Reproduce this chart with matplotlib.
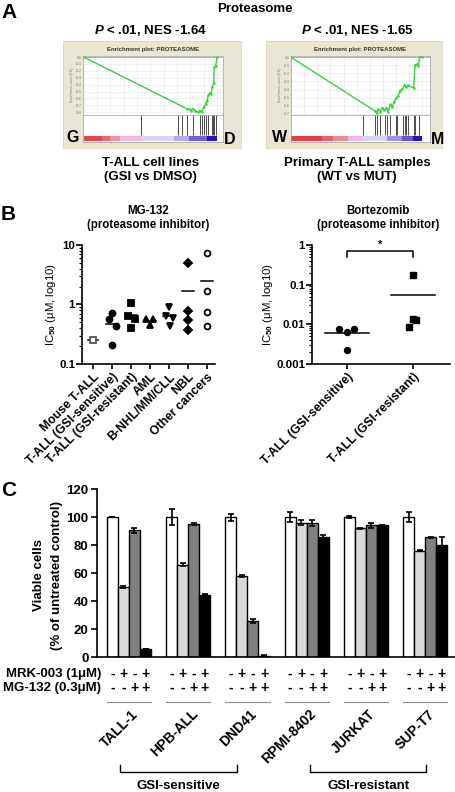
import numpy as np
import matplotlib.pyplot as plt
from matplotlib import transforms

plt.rcParams['font.family'] = ['Liberation Sans', 'DejaVu Sans']
plt.rcParams['font.weight'] = 'bold'
plt.rcParams['mathtext.fontset'] = 'custom'
plt.rcParams['mathtext.rm'] = 'Liberation Sans:bold'
plt.rcParams['mathtext.it'] = 'Liberation Sans:italic:bold'
plt.rcParams['mathtext.bf'] = 'Liberation Sans:bold'
plt.rcParams['mathtext.default'] = 'rm'

# ---------------- data ----------------
# A: running enrichment score (gene rank fraction, ES)
cell_rank = [0, 0.775, 0.795, 0.805, 0.82, 0.8375, 0.855, 0.87, 0.8875, 0.9, 0.915,
             0.925, 0.935, 0.945, 0.955, 0.965, 0.975, 0.98, 0.99, 1.0]
cell_es = [0, -0.75, -0.76, -0.78, -0.75, -0.775, -0.80, -0.775, -0.79, -0.73, -0.68,
           -0.63, -0.555, -0.52, -0.53, -0.43, -0.38, -0.14, -0.13, 0.0]
cell_hits = [0.4325, 0.705, 0.7375, 0.775, 0.82, 0.875, 0.8875, 0.905, 0.92, 0.93,
             0.9625, 0.97, 0.98, 0.9925]
cell_bar_edges = [0.005, 0.1375, 0.2, 0.275, 0.4375, 0.675, 0.7875, 0.925, 1.0]

primary_rank = [0, 0.64, 0.652, 0.665, 0.678, 0.695, 0.71, 0.726, 0.741, 0.756, 0.772,
                0.787, 0.802, 0.817, 0.83, 0.848, 0.863, 0.878, 0.893, 0.934, 0.944,
                0.959, 0.97, 0.98, 1.0]
primary_es = [0, -0.667, -0.69, -0.645, -0.675, -0.625, -0.66, -0.625, -0.675, -0.58, -0.615,
              -0.55, -0.50, -0.477, -0.413, -0.39, -0.34, -0.37, -0.35, -0.38, -0.097,
              -0.084, -0.11, 0.017, 0.0]
primary_hits = [0.551, 0.64, 0.657, 0.678, 0.718, 0.731, 0.754, 0.797, 0.81, 0.855,
                0.868, 0.878, 0.893, 0.939, 0.947, 0.975]
primary_bar_edges = [0, 0.234, 0.322, 0.431, 0.538, 0.728, 0.843, 0.931, 1.0]

# B: IC50 values (uM)
mg132_groups = ['Mouse T-ALL', 'T-ALL (GSI-sensitive)', 'T-ALL (GSI-resistant)', 'AML',
                'B-NHL/MM/CLL', 'NBL', 'Other cancers']
mg132_ic50 = [[0.255],
              [0.56, 0.71, 0.43, 0.21],
              [1.07, 0.64, 0.57, 0.40],
              [0.57, 0.57, 0.45],
              [0.90, 0.63, 0.59, 0.44],
              [5.0, 0.77, 0.54, 0.37],
              [7.2, 1.68, 0.76, 0.44]]
bort_groups = ['T-ALL (GSI-sensitive)', 'T-ALL (GSI-resistant)']
bort_ic50 = [[0.0075, 0.0065, 0.0078, 0.0023],
             [0.18, 0.014, 0.0129, 0.0087]]

# C: viable cells (% of untreated control)
cell_lines = ['TALL-1', 'HPB-ALL', 'DND41', 'RPMI-8402', 'JURKAT', 'SUP-T7']
viability = [[100, 50, 90.5, 5.5],
             [100, 66, 95, 44.5],
             [100, 57.8, 26, 0.8],
             [100, 96, 95.7, 85.5],
             [100, 92, 94, 94],
             [100, 76, 85.5, 80]]
viability_err = [[0, 0.5, 2, 0],
                 [5.5, 1, 0.5, 0.5],
                 [2.5, 1, 1.5, 0.3],
                 [3.5, 2, 2, 1.5],
                 [1, 0.5, 2, 0.5],
                 [3.5, 0.5, 0.3, 6]]
mrk_signs = ['-', '+', '-', '+']
mg_signs = ['-', '-', '+', '+']

# ---------------- layout helpers (pixels) ----------------
W, H = 456, 792
fig = plt.figure(figsize=(W / 100, H / 100), dpi=100)


def rect(x0, y0, x1, y1):
    return [x0 / W, 1 - y1 / H, (x1 - x0) / W, (y1 - y0) / H]


def ftext(x, y, s, **kw):
    kw.setdefault('ha', 'center')
    kw.setdefault('va', 'center')
    return fig.text(x / W, 1 - y / H, s, **kw)


# ---------------- panel A ----------------
ftext(1, 12, 'A', fontsize=15, ha='left')
ftext(255, 9, 'Proteasome', fontsize=9.5)

bar_colors = {
    'cell': ['#E8434D', '#EC6670', '#F1939A', '#F2B9DC', '#D9D5F3', '#B5ADEC', '#6F60DD', '#2A12C6'],
    'primary': ['#E83F47', '#EC5F68', '#F08A91', '#F3B8DB', '#D8D4F3', '#9C92E8', '#6553D8', '#2710C4'],
}


def gsea(box, plot_x, rank_lim, rank, es, hits, es_ticks, es_lim, edges, colors, letters, letter_x):
    bg = fig.add_axes(rect(box[0], 41, box[1], 148))
    bg.set_facecolor('#E9E6D3')
    bg.set_xticks([])
    bg.set_yticks([])
    for s in bg.spines.values():
        s.set_color('#D6D2BE')
        s.set_linewidth(0.5)
    ftext((plot_x[0] + plot_x[1]) / 2, 50, 'Enrichment plot: PROTEASOME', fontsize=4.3, color='#333333')

    p = fig.add_axes(rect(plot_x[0], 56, plot_x[1], 115))
    p.set_facecolor('white')
    p.plot(rank, es, color='#33D633', lw=1.0, marker='.', ms=1.6)
    p.axhline(0, color='#9A9A9A', lw=0.5)
    p.set_xlim(rank_lim)
    p.set_ylim(es_lim)
    p.set_yticks(es_ticks)
    p.set_yticklabels([f'{t:.1f}' for t in es_ticks], fontsize=2.4, color='#777777', weight='normal')
    p.set_xticks(np.arange(0, 1.01, 0.1))
    p.tick_params(length=0, pad=1, labelbottom=False)
    p.grid(color='#E6E6E6', lw=0.4)
    p.set_axisbelow(True)
    p.set_ylabel('Enrichment score (ES)', fontsize=2.4, color='#777777', weight='normal', labelpad=1.5)
    for s in p.spines.values():
        s.set_color('#A0A0A0')
        s.set_linewidth(0.5)

    h = fig.add_axes(rect(plot_x[0], 115, plot_x[1], 142))
    h.set_facecolor('white')
    h.set_xlim(rank_lim)
    h.set_ylim(0, 27)
    h.vlines(hits, 7, 27, color='#4A4A4A', lw=0.7)
    h.broken_barh([(a, b - a) for a, b in zip(edges[:-1], edges[1:])], (1, 5.5),
                  facecolors=colors)
    h.set_xticks([])
    h.set_yticks([])
    for s in h.spines.values():
        s.set_color('#A0A0A0')
        s.set_linewidth(0.5)

    ftext(letter_x[0], 138, letters[0], fontsize=11.5)
    ftext(letter_x[1], 139, letters[1], fontsize=11.5)


gsea((63, 241), (83, 223), (-0.005, 1.045), cell_rank, cell_es, cell_hits,
     np.round(np.arange(0, -0.81, -0.1), 1), (-0.84, 0.015), cell_bar_edges,
     bar_colors['cell'], ('G', 'D'), (73, 230))
gsea((266, 442), (291, 430), (0, 1.058), primary_rank, primary_es, primary_hits,
     np.round(np.arange(0, -0.71, -0.1), 1), (-0.716, 0.016), primary_bar_edges,
     bar_colors['primary'], ('W', 'M'), (280, 438))

ftext(150, 31, r'$\it{P}$ < .01, NES -1.64', fontsize=9.5)
ftext(357, 31, r'$\it{P}$ < .01, NES -1.65', fontsize=9.5)
ftext(150, 163, 'T-ALL cell lines', fontsize=9.5)
ftext(150, 177, '(GSI vs DMSO)', fontsize=9.5)
ftext(357, 163, 'Primary T-ALL samples', fontsize=9.5)
ftext(357, 177, '(WT vs MUT)', fontsize=9.5)

# ---------------- panel B ----------------
ftext(1, 214, 'B', fontsize=15, ha='left')
ftext(148, 211, 'MG-132', fontsize=8.3)
ftext(148, 225, '(proteasome inhibitor)', fontsize=8.3)
ftext(378, 211, 'Bortezomib', fontsize=8.3)
ftext(378, 225, '(proteasome inhibitor)', fontsize=8.3)


def style_scatter_ax(ax):
    ax.set_yscale('log')
    for s in ['top', 'right']:
        ax.spines[s].set_visible(False)
    for s in ['left', 'bottom']:
        ax.spines[s].set_linewidth(1.2)
    ax.tick_params(axis='y', which='major', length=4, width=1.2, labelsize=8.2, pad=1)
    ax.tick_params(axis='y', which='minor', length=2, width=0.8)
    ax.tick_params(axis='x', length=3.5, width=1.2, labelsize=8.8, pad=1.5)
    ax.set_ylabel(r'IC$_{50}$ (μM, log10)', fontsize=8.2, labelpad=1)


mg_markers = [('s', 'white', '#555555'), ('o', 'black', 'black'), ('s', 'black', 'black'),
              ('^', 'black', 'black'), ('v', 'black', 'black'), ('D', 'black', 'black'),
              ('o', 'white', 'black')]
mg_offsets = [[0], [-0.18, 0, 0.19, 0], [0, -0.18, 0.19, 0], [-0.19, 0.18, 0],
              [0, -0.18, 0.23, 0.03], [0, 0, 0, 0], [0, 0, 0, 0]]
mg_sizes = [4.2, 4.3, 4.3, 4.6, 4.6, 3.6, 4.2]

axb = fig.add_axes(rect(82, 245, 215, 364))
style_scatter_ax(axb)
for i, vals in enumerate(mg132_ic50):
    m, fc, ec = mg_markers[i]
    axb.plot(np.array(mg_offsets[i]) + i, vals, ls='none', marker=m, ms=mg_sizes[i],
             mfc=fc, mec=ec, mew=1.3, zorder=3)
    half = 0.27 if i == 0 else 0.34
    axb.plot([i - half, i + half], [np.mean(vals)] * 2, color='black', lw=1.1, zorder=2)
axb.set_ylim(0.1, 10)
axb.set_xlim(-0.58, 6.42)
axb.set_yticks([0.1, 1, 10])
axb.set_yticklabels(['0.1', '1', '10'])
axb.set_xticks(range(len(mg132_groups)))
axb.set_xticklabels(mg132_groups, rotation=45, ha='right', rotation_mode='anchor')

bort_markers = [('o', 'black'), ('s', 'black')]
bort_offsets = [[-0.115, 0, 0.11, 0], [0, 0, 0.05, -0.06]]
axr = fig.add_axes(rect(312, 245, 450, 364))
style_scatter_ax(axr)
for i, vals in enumerate(bort_ic50):
    m, fc = bort_markers[i]
    axr.plot(np.array(bort_offsets[i]) + i, vals, ls='none', marker=m, ms=4.3, mfc=fc,
             mec=fc, zorder=3)
    axr.plot([i - 0.34, i + 0.34], [np.mean(vals)] * 2, color='black', lw=1.1, zorder=2)
axr.plot([0, 0, 1, 1], [0.5, 0.71, 0.71, 0.5], color='black', lw=1.1, clip_on=False)
axr.text(0.5, 0.75, '*', ha='center', va='bottom', fontsize=8)
axr.set_ylim(0.001, 1)
axr.set_xlim(-0.53, 1.56)
axr.set_yticks([0.001, 0.01, 0.1, 1])
axr.set_yticklabels(['0.001', '0.01', '0.1', '1'])
axr.set_xticks(range(len(bort_groups)))
axr.set_xticklabels(bort_groups, rotation=45, ha='right', rotation_mode='anchor')

# ---------------- panel C ----------------
ftext(1, 490, 'C', fontsize=15, ha='left')
axc = fig.add_axes(rect(97, 489, 456, 657))
bar_w = 0.186
bar_cols = ['white', '#D9D9D9', '#808080', 'black']
x = np.arange(len(cell_lines))
vals = np.array(viability)
errs = np.array(viability_err)
for j in range(4):
    axc.bar(x + (j - 1.5) * bar_w, vals[:, j], bar_w, color=bar_cols[j], edgecolor='black',
            lw=1.0, yerr=errs[:, j], capsize=2.5,
            error_kw=dict(elinewidth=1.2, capthick=1.2, ecolor='black'))
axc.set_ylim(0, 120)
axc.set_xlim(-0.54, 5.52)
axc.set_yticks(range(0, 121, 20))
axc.set_xticks([])
for s in ['top', 'right']:
    axc.spines[s].set_visible(False)
for s in ['left', 'bottom']:
    axc.spines[s].set_linewidth(1.2)
axc.tick_params(axis='y', length=4, width=1.2, labelsize=9.5, pad=2)
ftext(39, 575, 'Viable cells', fontsize=9.5, rotation=90)
ftext(57, 575, '(% of untreated control)', fontsize=9.5, rotation=90)

trans = transforms.blended_transform_factory(axc.transData, fig.transFigure)
ftext(101, 674, 'MRK-003 (1μM)', fontsize=9.5, ha='right')
ftext(101, 688, 'MG-132 (0.3μM)', fontsize=9.5, ha='right')
for i, name in enumerate(cell_lines):
    for j in range(4):
        xj = i + (j - 1.5) * bar_w
        axc.text(xj, 1 - 674 / H, mrk_signs[j], transform=trans, ha='center', va='center',
                 fontsize=10)
        axc.text(xj, 1 - 688 / H, mg_signs[j], transform=trans, ha='center', va='center',
                 fontsize=10)
    axc.plot([i - 2 * bar_w, i + 2 * bar_w], [1 - 702 / H] * 2, transform=trans,
             color='#8C8C8C', lw=0.8, clip_on=False)
    axc.text(i + 0.04, 1 - 707 / H, name, transform=trans, rotation=45, ha='right',
             va='top', rotation_mode='anchor', fontsize=10)

for (a, b), lab in [((-0.15, 1.82), 'GSI-sensitive'), ((3.06, 5.02), 'GSI-resistant')]:
    axc.plot([a, a, b, b], [1 - 765 / H, 1 - 772 / H, 1 - 772 / H, 1 - 765 / H],
             transform=trans, color='black', lw=1.0, clip_on=False)
    axc.text((a + b) / 2, 1 - 786 / H, lab, transform=trans, ha='center', va='center',
             fontsize=9.5)

fig.savefig('out.png', dpi=100)
